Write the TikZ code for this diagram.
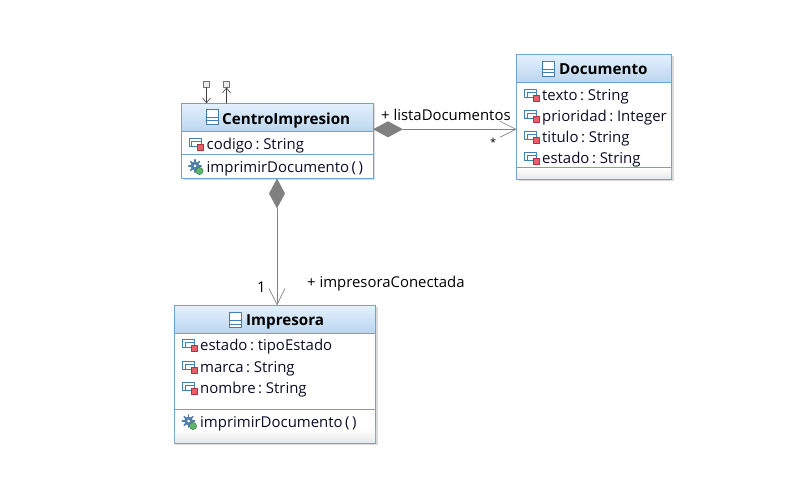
\documentclass[tikz,border=0pt]{standalone}
\usepackage{fontspec}
\setmainfont{Open Sans}
\usetikzlibrary{arrows.meta,shapes.geometric}
\definecolor{boxline}{HTML}{6FA3D6}
\definecolor{headtop}{HTML}{E4F1FD}
\definecolor{headbot}{HTML}{BBD5EE}
\definecolor{inktext}{HTML}{0C0C26}
\definecolor{assocline}{HTML}{808080}
\definecolor{iconblue}{HTML}{3F7FB5}
\definecolor{iconred}{HTML}{E4606C}
\definecolor{icondark}{HTML}{B4303C}
\definecolor{icongear}{HTML}{4F7FA8}
\definecolor{icongreen}{HTML}{5CB56A}
\newcommand{\memberfont}[1]{\fontsize{14.95}{16}\selectfont\spaceskip 2.5pt\relax #1}
\tikzset{
  classbox/.style={draw=boxline, line width=.9pt, fill=white, inner sep=0, outer sep=0, anchor=north west},
  classhead/.style={classbox, top color=headtop, bottom color=headbot},
  classfoot/.style={classbox, top color=white, bottom color=black!9, draw=none},
  classshadow/.style={fill=black!14, draw=none, inner sep=0, outer sep=0, anchor=north west},
  title/.style={font=\fontsize{15.2}{16}\selectfont\bfseries, text=black, inner sep=0, anchor=base west},
  member/.style={text=inktext, inner sep=0, anchor=base west},
  lab/.style={font=\fontsize{14.9}{16}\selectfont, text=black, inner sep=0, anchor=base west},
  comp/.style={diamond, fill=assocline, draw=none, inner sep=0, outer sep=0, minimum width=30pt, minimum height=16pt},
  assoc/.style={draw=assocline, line width=.8pt, -{Straight Barb[length=16pt,width=16pt,line width=.7pt,color=black!45]}},
  stub/.style={draw=black!75, line width=.6pt},
  stubbox/.style={draw=black!55, fill=black!8, line width=.7pt, inner sep=0, outer sep=0, minimum size=6pt},
  pics/classicon/.style={code={
    \draw[iconblue, line width=.8pt, fill=white] (0,0) rectangle (12,15);
    \draw[iconblue, line width=.8pt] (0,8)--(12,8) (0,11.5)--(12,11.5);
  }},
  pics/attricon/.style={code={
    \draw[iconblue, line width=.8pt, fill=white] (0,0) rectangle (12,8);
    \draw[iconblue, line width=.8pt, fill=white] (2.5,2.5) rectangle (12,8);
    \draw[icondark, line width=.6pt, fill=iconred] (8.5,5.5) rectangle (14.5,11.5);
  }},
  pics/opicon/.style={code={
    \foreach \a in {0,45,...,315}
      \draw[icongear, line width=1.6pt] (6,6)--++(\a:6.2);
    \fill[icongear] (6,6) circle (4.4);
    \fill[white] (6,6) circle (1.5);
    \draw[icongreen!70!black, line width=.5pt, fill=icongreen] (10.5,11) circle (3.6);
  }},
}
\begin{document}
\begin{tikzpicture}[x=1pt, y=-1pt, line join=round, line cap=round]
\useasboundingbox (0,0) rectangle (804,478);
% CentroImpresion
\node[classshadow, minimum width=191.5pt, minimum height=75pt] (centroS) at (183.5,105.5) {};
\node[classbox, minimum width=191.5pt, minimum height=75pt] (centro) at (181.5,103.3) {};
\node[classhead, minimum width=191.5pt, minimum height=28.4pt] (centroH) at (181.5,103.3) {};
\draw[boxline, line width=.9pt] (181.5,154.3) coordinate (centroA) -- (centroA -| centro.east);
\pic at (206,109) {classicon};
\node[title] (centroT) at (222,124.5) {CentroImpresion};
\pic at (189,138.5) {attricon};
\node[member] (centro1) at (206.5,149.5) {\memberfont{codigo : String}};
\pic at (189,160) {opicon};
\node[member] (centro2) at (206.5,172.5) {\memberfont{imprimirDocumento ( )}};
% stereotype stubs
\node[stubbox] (stubA) at (206.5,84.5) {};
\node[stubbox] (stubB) at (226.5,84.5) {};
\draw[stub, -{Straight Barb[length=5pt,width=8pt]}] (stubA.south) -- (stubA.south |- centro.north);
\draw[stub, {Straight Barb[length=5pt,width=8pt]}-] (stubB.south) -- (stubB.south |- centro.north);
% Documento
\node[classshadow, minimum width=155pt, minimum height=125pt] (docS) at (518.7,56.5) {};
\node[classbox, minimum width=155pt, minimum height=125pt] (doc) at (516.7,54.3) {};
\node[classhead, minimum width=155pt, minimum height=28pt] (docH) at (516.7,54.3) {};
\node[classfoot, minimum width=154pt, minimum height=11.5pt] (docF) at (517.2,167.3) {};
\draw[boxline, line width=.9pt] (516.7,167.3) coordinate (docA) -- (docA -| doc.east);
\pic at (542.5,61) {classicon};
\node[title] (docT) at (559,75) {Documento};
\foreach \n/\y/\t in {1/100.5/texto : String, 2/121.5/prioridad : Integer, 3/142.5/titulo : String, 4/163.5/estado : String}{
  \pic at (524.5,\y-11) {attricon};
  \node[member] (doc\n) at (542,\y) {\memberfont{\t}};
}
% Impresora
\node[classshadow, minimum width=201.4pt, minimum height=138pt] (impS) at (176.3,307.5) {};
\node[classbox, minimum width=201.4pt, minimum height=138pt] (imp) at (174.3,305.3) {};
\node[classhead, minimum width=201.4pt, minimum height=28pt] (impH) at (174.3,305.3) {};
\node[classfoot, minimum width=200.4pt, minimum height=14pt] (impF) at (174.8,429) {};
\draw[boxline, line width=.9pt] (174.3,409.3) coordinate (impA) -- (impA -| imp.east);
\pic at (229.5,312.5) {classicon};
\node[title] (impT) at (246,326) {Impresora};
\foreach \n/\y/\t in {1/350.5/estado : tipoEstado, 2/372.5/marca : String, 3/393.5/nombre : String}{
  \pic at (182.5,\y-11) {attricon};
  \node[member] (imp\n) at (200,\y) {\memberfont{\t}};
}
\pic at (182.5,415) {opicon};
\node[member] (imp4) at (200,427.5) {\memberfont{imprimirDocumento ( )}};
% associations
\node[comp] (compR) at (388,129.3) {};
\node[comp, minimum width=16pt, minimum height=30pt] (compD) at (277,193.5) {};
\draw[assoc] (compR.east) -- (compR.east -| doc.west);
\draw[assoc] (compD.south) -- (compD.south |- imp.north);
\node[lab] (labR) at (381,120.5) {+ listaDocumentos};
\node[lab, font=\fontsize{11}{12}\selectfont] (labRm) at (490,147) {*};
\node[lab] (labD) at (307,287.5) {+ impresoraConectada};
\node[lab] (labDm) at (257,293) {1};
\end{tikzpicture}
\end{document}
